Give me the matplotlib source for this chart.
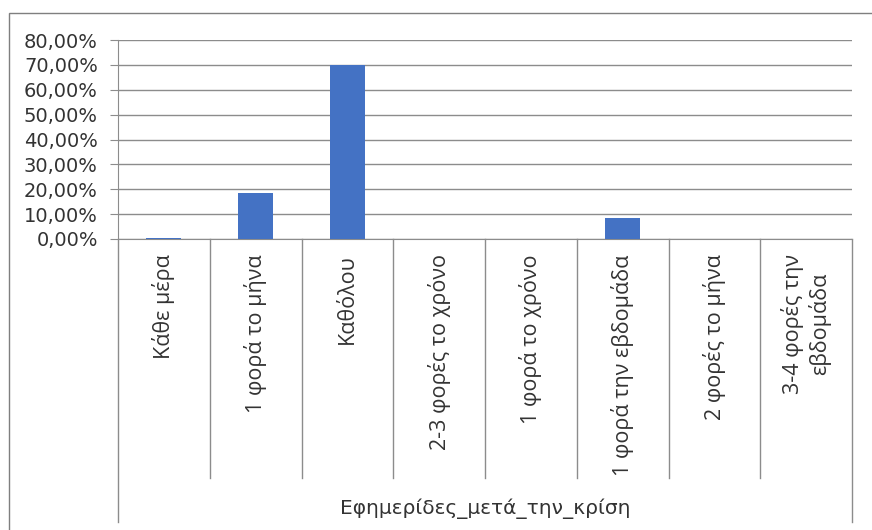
import matplotlib.pyplot as plt
from matplotlib.lines import Line2D
from matplotlib.patches import Rectangle
from matplotlib.ticker import FuncFormatter

plt.rcParams['font.family'] = ['DejaVu Sans']

categories = ['Κάθε μέρα', '1 φορά το μήνα', 'Καθόλου', '2-3 φορές το χρόνο',
              '1 φορά το χρόνο', '1 φορά την εβδομάδα', '2 φορές το μήνα',
              '3-4 φορές την\nεβδομάδα']
shares = [0.5, 18.4, 70.0, 0.0, 0.0, 8.4, 0.0, 0.0]
y_ticks = [0, 10, 20, 30, 40, 50, 60, 70, 80]
field_name = 'Εφημερίδες_μετά_την_κρίση'

W, H = 872, 530
grid_col = '#8c8c8c'
bar_col = '#4472c4'
txt_col = '#333333'

fig = plt.figure(figsize=(W / 100, H / 100), dpi=100)

# plot area in pixel units
x0, x1, y_top, y_bot = 118, 852, 40, 239
ax = fig.add_axes([x0 / W, 1 - y_bot / H, (x1 - x0) / W, (y_bot - y_top) / H])

n = len(categories)
ax.bar(range(n), shares, width=0.38, color=bar_col, zorder=3)
ax.set_xlim(-0.5, n - 0.5)
ax.set_ylim(0, 80)
ax.set_yticks(y_ticks)
ax.yaxis.set_major_formatter(FuncFormatter(lambda v, p: f'{v:.2f}%'.replace('.', ',')))
ax.tick_params(axis='y', length=5.5, color=grid_col, labelsize=14, pad=9,
               labelcolor=txt_col)
ax.yaxis.grid(True, color=grid_col, linewidth=1)
ax.set_axisbelow(True)

for s in ['top', 'right']:
    ax.spines[s].set_visible(False)
ax.spines['left'].set_color(grid_col)
ax.spines['bottom'].set_color(grid_col)

ax.set_xticks(range(n))
ax.set_xticklabels(categories, rotation=90, va='top', ha='center',
                   fontsize=15.5, color=txt_col, linespacing=1.2,
                   family=['Open Sans', 'DejaVu Sans'])
ax.tick_params(axis='x', length=0, pad=11)

# category separators under the axis
step = (x1 - x0) / n
for i in range(n + 1):
    xp = x0 + i * step
    yend = 522 if i in (0, n) else 478
    fig.add_artist(Line2D([xp / W, xp / W], [1 - y_bot / H, 1 - yend / H],
                          color=grid_col, linewidth=1))

fig.text((x0 + x1) / 2 / W, 1 - 509 / H, field_name, ha='center', va='center',
         fontsize=14.5, color=txt_col)

# chart border
fig.add_artist(Rectangle((9 / W, -0.1), 2, 1 - 13 / H + 0.1, fill=False,
                         edgecolor='#7f7f7f', linewidth=1, transform=fig.transFigure))

fig.savefig('out.png', dpi=100)
